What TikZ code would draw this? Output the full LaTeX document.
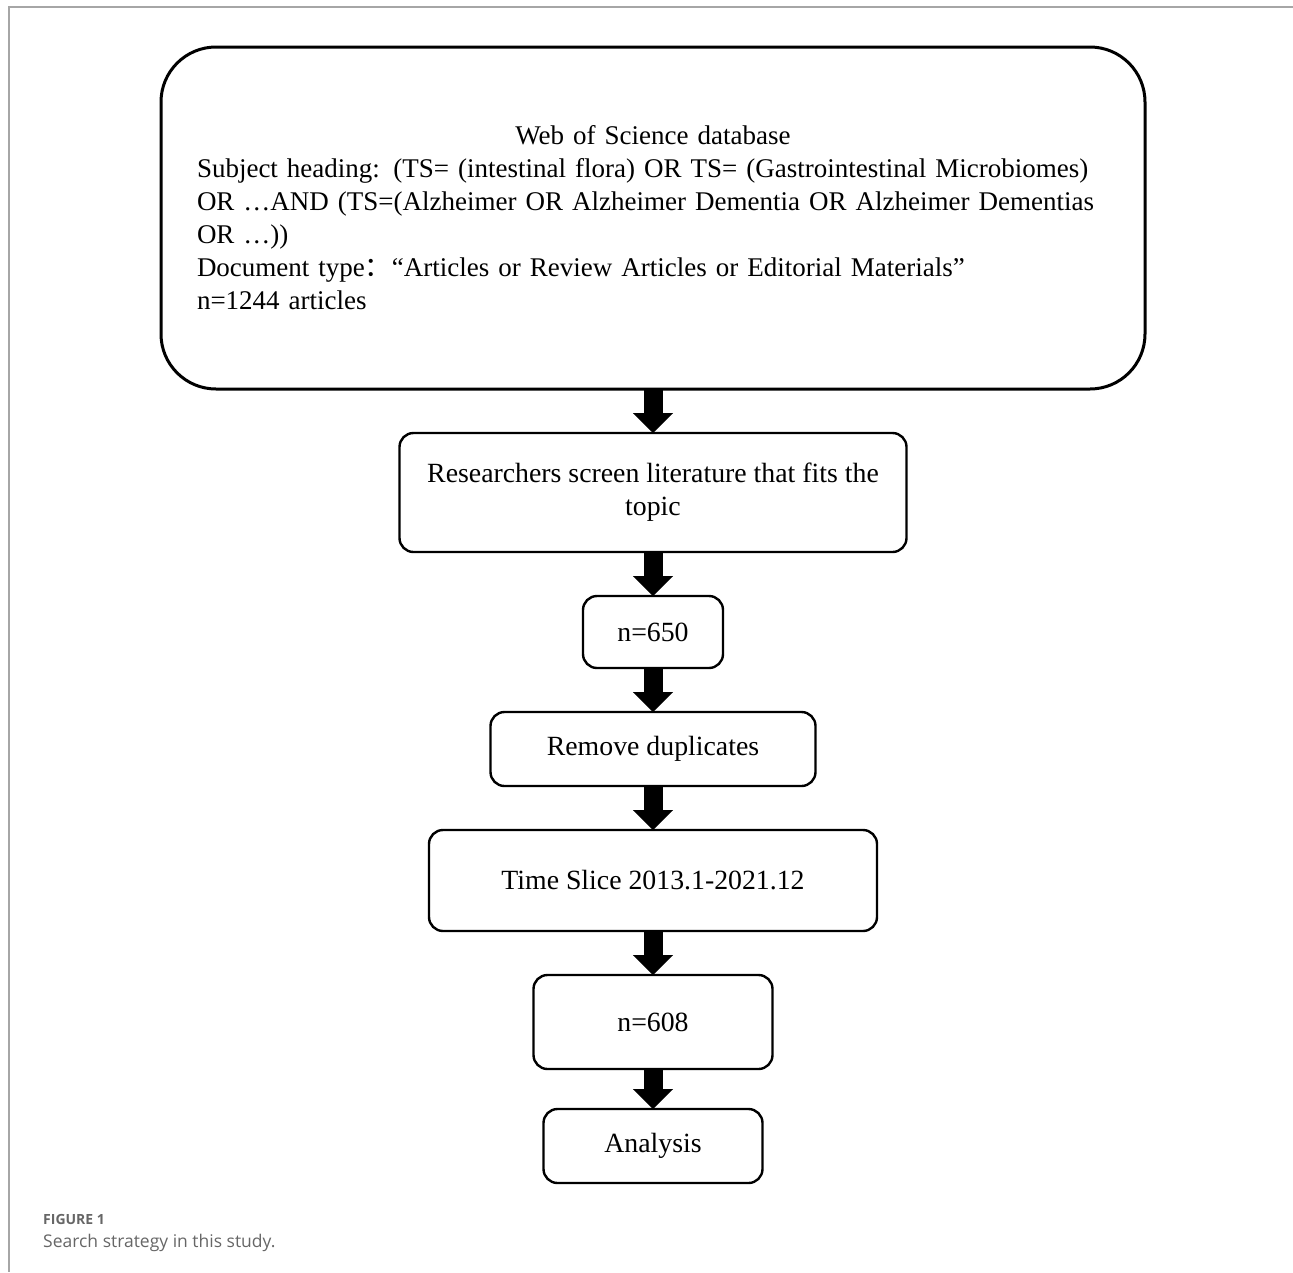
\documentclass[tikz,border=0pt]{standalone}
\usepackage{fontspec}
\setmainfont{Liberation Serif}
\newfontfamily\capfont{Open Sans}
\newfontfamily\cjkfont{Noto Sans CJK SC}
\usetikzlibrary{arrows.meta, positioning}

\begin{document}
\begin{tikzpicture}[x=1pt, y=-1pt,
          node distance = 44pt,
          stage/.style = {draw, line width=2.4pt, rounded corners=14pt,
                          align=center, inner sep=0pt, outer sep=0pt,
                          font=\fontsize{27.8}{33}\selectfont},
          flow/.style = {line width=19pt,
                         -{Triangle[width=40pt, length=20pt, line width=0.1pt]}},
          caption/.style = {anchor=west, inner sep=0pt, text=black!60}]
        \useasboundingbox (0,0) rectangle (1293,1272);
        \draw[black!35, line width=1.5pt] (1293,7) -- (9,7) -- (9,1272);
        \node[stage, line width=3pt, rounded corners=55pt,
              minimum width=984pt, minimum height=342pt,
              text width=912pt, align=left,
              font=\fontsize{27}{33}\selectfont] (wos) at (653,218)
              {\hyphenpenalty=10000
               \hbox to\hsize{\hfil Web of Science database\hfil}\\
               Subject heading: (TS= (intestinal flora) OR TS= (Gastrointestinal Microbiomes)\\
               OR …AND (TS=(Alzheimer OR Alzheimer Dementia OR Alzheimer Dementias\\
               OR …))\\
               Document type{\cjkfont ：}“Articles or Review Articles or Editorial Materials”\\
               n=1244 articles};
        \node[stage, below=of wos, minimum width=507pt, minimum height=119pt] (screen)
              {Researchers screen literature that fits the\\topic};
        \node[stage, below=of screen, minimum width=140pt, minimum height=72pt] (first) {n=650};
        \node[stage, below=of first, minimum width=325pt, minimum height=74pt] (dedup)
              {Remove duplicates};
        \node[stage, below=of dedup, minimum width=448pt, minimum height=101pt] (slice)
              {Time Slice 2013.1-2021.12};
        \node[stage, below=of slice, minimum width=239pt, minimum height=94pt] (final) {n=608};
        \node[stage, below=40pt of final, minimum width=219pt, minimum height=74pt] (analysis)
              {Analysis};
        \draw[flow] (wos)    -- (screen);
        \draw[flow] (screen) -- (first);
        \draw[flow] (first)  -- (dedup);
        \draw[flow] (dedup)  -- (slice);
        \draw[flow] (slice)  -- (final);
        \draw[flow] (final)  -- (analysis);
        % caption
        \node[caption, font=\capfont\bfseries\fontsize{14}{16}\selectfont] (figlabel)
              at (43,1219) {FIGURE 1};
        \node[caption, font=\capfont\fontsize{17.5}{20}\selectfont] (figtext)
              at (43,1243) {Search strategy in this study.};
      \end{tikzpicture}
\end{document}
